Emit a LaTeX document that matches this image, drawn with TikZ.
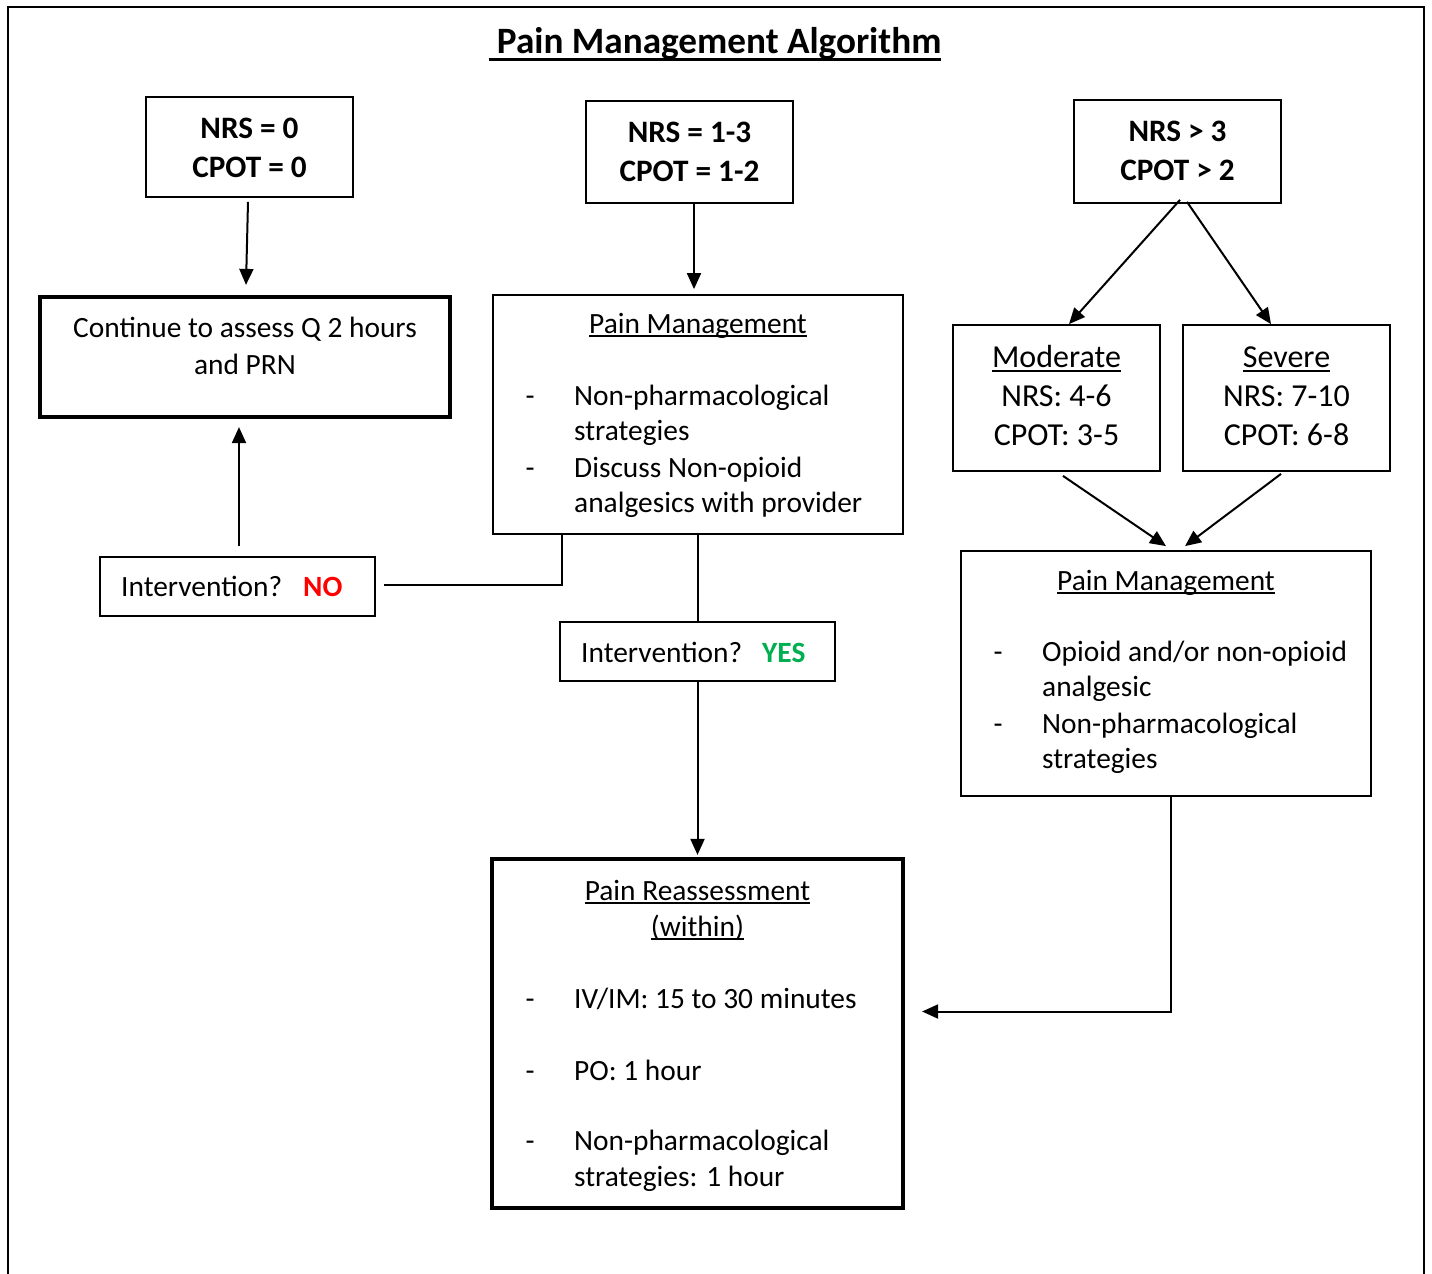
\documentclass[tikz,border=0pt]{standalone}
\usepackage{fontspec}
\setmainfont{Carlito}
\usetikzlibrary{arrows.meta}
\definecolor{noRed}{RGB}{255,0,0}
\definecolor{yesGreen}{RGB}{0,176,80}
\newsavebox\ulbox
% #1 = depth of rule bottom below baseline, #2 = thickness, #3 = text
\newcommand{\myul}[3]{\sbox\ulbox{#3}\rlap{\rule[-#1]{\wd\ulbox}{#2}}\usebox\ulbox}
\tikzset{
  thinbox/.style={draw, line width=1.8pt, inner sep=0pt},
  thickbox/.style={draw, line width=4.2pt, inner sep=0pt},
  conn/.style={line width=2pt},
  arr/.style={conn, -{Triangle[length=16pt,width=14pt]}},
  body/.style={inner sep=0pt, anchor=base, font=\fontsize{29.4}{35}\selectfont},
  bodyL/.style={body, anchor=base west},
  head/.style={inner sep=0pt, anchor=base, font=\fontsize{31.2}{37}\selectfont\bfseries},
  sev/.style={inner sep=0pt, anchor=base, font=\fontsize{32}{38}\selectfont},
  frame/.style={line width=2pt},
}
\begin{document}
\begin{tikzpicture}[x=1pt,y=-1pt]
\useasboundingbox (0,0) rectangle (1432,1274);
\draw[frame] (8,1274) -- (8,7) -- (1424,7) -- (1424,1274);

% title
\node[inner sep=0pt, anchor=base, font=\fontsize{37.2}{44}\selectfont\bfseries] (title) at (715,53) {\myul{7.7pt}{2.8pt}{\ Pain Management Algorithm}};

% boxes
\node[thinbox, minimum width=207, minimum height=100] (A) at (249.5,147) {};
\node[thinbox, minimum width=207, minimum height=102] (B) at (689.5,152) {};
\node[thinbox, minimum width=207, minimum height=103] (C) at (1177.5,151.5) {};
\node[thickbox, minimum width=410, minimum height=120] (D) at (245,357) {};
\node[thinbox, minimum width=410, minimum height=239] (E) at (698,414.5) {};
\node[thinbox, minimum width=275, minimum height=59] (F) at (237.5,586.5) {};
\node[thinbox, minimum width=275, minimum height=59] (G) at (697.5,651.5) {};
\node[thinbox, minimum width=207, minimum height=146] (H) at (1056.5,398) {};
\node[thinbox, minimum width=207, minimum height=146] (I) at (1286.5,398) {};
\node[thinbox, minimum width=410, minimum height=245] (J) at (1166,673.5) {};
\node[thickbox, minimum width=411, minimum height=349] (K) at (697.5,1033.5) {};

% texts A, B, C
\node[head] (a1) at (249.5,138) {NRS = 0};
\node[head] (a2) at (249.5,177) {CPOT = 0};
\node[head] (b1) at (689.5,142) {NRS = 1-3};
\node[head] (b2) at (689.5,181) {CPOT = 1-2};
\node[head] (c1) at (1177.5,141.5) {NRS > 3};
\node[head] (c2) at (1177.5,180.5) {CPOT > 2};

% D
\node[body] (d1) at (245,337) {Continue to assess Q 2 hours};
\node[body] (d2) at (245,374.5) {and PRN};

% E
\node[body] (e0) at (698,333) {\myul{4pt}{1.8pt}{Pain Management}};
\node[body] (e1d) at (530,405) {-};
\node[bodyL] (e1) at (574,405) {Non-pharmacological};
\node[bodyL] (e2) at (574,440) {strategies};
\node[body] (e3d) at (530,477) {-};
\node[bodyL] (e3) at (574,477) {Discuss Non-opioid};
\node[bodyL] (e4) at (574,512) {analgesics with provider};

% F, G
\node[bodyL] (f1) at (121,596) {Intervention?};
\node[bodyL, font=\fontsize{29.4}{35}\selectfont\bfseries, text=noRed] (f2) at (303,596) {NO};
\node[bodyL] (g1) at (581,662) {Intervention?};
\node[bodyL, font=\fontsize{29.4}{35}\selectfont\bfseries, text=yesGreen] (g2) at (762,662) {YES};

% H, I
\node[sev] (h1) at (1056.5,367) {\myul{4.5pt}{2pt}{Moderate}};
\node[sev] (h2) at (1056.5,406) {NRS: 4-6};
\node[sev] (h3) at (1056.5,445) {CPOT: 3-5};
\node[sev] (i1) at (1286.5,367) {\myul{4.5pt}{2pt}{Severe}};
\node[sev] (i2) at (1286.5,406) {NRS: 7-10};
\node[sev] (i3) at (1286.5,445) {CPOT: 6-8};

% J
\node[body] (j0) at (1166,590) {\myul{4pt}{1.8pt}{Pain Management}};
\node[body] (j1d) at (998,661.5) {-};
\node[bodyL] (j1) at (1042,661.5) {Opioid and/or non-opioid};
\node[bodyL] (j2) at (1042,696.5) {analgesic};
\node[body] (j3d) at (998,733) {-};
\node[bodyL] (j3) at (1042,733) {Non-pharmacological};
\node[bodyL] (j4) at (1042,768) {strategies};

% K
\node[body] (k0) at (697.5,900) {\myul{4pt}{1.8pt}{Pain Reassessment}};
\node[body] (k0b) at (697.5,936) {\myul{4pt}{1.8pt}{(within)}};
\node[body] (k1d) at (530,1008) {-};
\node[bodyL] (k1) at (574,1008) {IV/IM: 15 to 30 minutes};
\node[body] (k2d) at (530,1080) {-};
\node[bodyL] (k2) at (574,1080) {PO: 1 hour};
\node[body] (k3d) at (530,1150) {-};
\node[bodyL] (k3) at (574,1150) {Non-pharmacological};
\node[bodyL] (k4) at (574,1186) {strategies: 1 hour};

% connectors
\draw[arr] ([shift={(-1.5,4)}]A.south) -- ([shift={(1,-10)}]D.north);
\draw[arr] ([shift={(4.5,0)}]B.south) -- ([shift={(-4,-5)}]E.north);
\draw[arr] ([shift={(2.5,-4)}]C.south) -- ([shift={(12.5,0)}]H.north);
\draw[arr] ([shift={(9.5,-2)}]C.south) -- ([shift={(-15.5,0)}]I.north);
\draw[arr] ([shift={(6.5,4)}]H.south) -- ([shift={(0,-4)}]J.north);
\draw[arr] ([shift={(-5.5,2)}]I.south) -- ([shift={(19,-4)}]J.north);
\draw[conn] (E.south -| G.north) -- (G.north);
\draw[arr] (G.south) -- ([shift={(0,-2)}]K.north);
\draw[conn] ([xshift=70]E.south west) |- ([shift={(8,-1.5)}]F.east);
\draw[arr] ([shift={(1.5,-10)}]F.north) -- ([shift={(-6,8)}]D.south);
\draw[arr] ([xshift=5]J.south) |- ([shift={(17,-22)}]K.east);
\end{tikzpicture}
\end{document}
